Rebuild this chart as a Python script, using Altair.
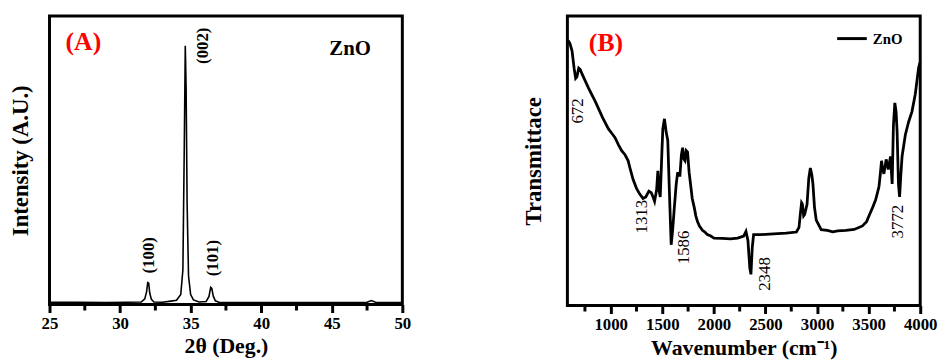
import altair as alt
import pandas as pd

# ---------------- Panel A: XRD ----------------
xrd_2theta = [25, 27, 29, 30.5, 31.5, 31.75, 31.88, 31.96, 32.03, 32.1, 32.22, 32.4, 33.0,
              33.6, 34.0, 34.3, 34.45, 34.55, 34.62, 34.68, 34.75, 34.85, 35.0, 35.2, 35.6,
              36.1, 36.3, 36.42, 36.5, 36.6, 36.75, 37.0, 38, 40, 42, 44, 46, 47.5, 47.8,
              48.1, 49, 50]
xrd_int = [0.8, 0.8, 0.7, 0.8, 0.9, 2.0, 4.5, 7.6, 7.4, 4.0, 1.8, 0.9, 0.8,
           1.2, 1.5, 3.5, 12, 55, 89.7, 75, 35, 10, 3.5, 1.6, 0.9,
           1.1, 2.8, 6.0, 5.6, 3.0, 1.3, 0.8, 0.7, 0.7, 0.7, 0.7, 0.7, 0.8, 1.4,
           0.8, 0.7, 0.7]

xrd_labels = ["(100)", "(002)", "(101)"]
xrd_label_x = [32.07, 35.85, 36.62]
xrd_label_y = [17.1, 89.7, 16.1]
xrd_major = [25, 30, 35, 40, 45, 50]
xrd_minor = [27.5, 32.5, 37.5, 42.5, 47.5]

# ---------------- Panel B: FTIR ----------------
ftir_wn = [587, 605, 625, 645, 660, 672, 690, 705, 722, 786, 850, 920, 978, 1010, 1042,
           1075, 1106, 1140, 1169, 1190, 1217, 1250, 1281, 1313, 1340, 1370, 1393, 1410,
           1425, 1445, 1457, 1468, 1480, 1495, 1505, 1521, 1537, 1553, 1570, 1586, 1600,
           1617, 1635, 1649, 1660, 1671, 1685, 1697, 1710, 1720, 1732, 1745, 1760, 1777,
           1790, 1809, 1825, 1841, 1860, 1889, 1910, 1937, 1970, 2001, 2080, 2161, 2230,
           2289, 2311, 2330, 2348, 2359, 2372, 2385, 2450, 2577, 2700, 2800, 2825, 2839,
           2850, 2858, 2870, 2880, 2903, 2920, 2935, 2950, 2960, 2975, 2992, 3040, 3100,
           3152, 3200, 3280, 3360, 3440, 3480, 3504, 3540, 3568, 3600, 3612, 3625, 3636,
           3648, 3670, 3690, 3712, 3728, 3740, 3754, 3766, 3776, 3789, 3800, 3812, 3824,
           3856, 3888, 3920, 3952, 3984, 3998]
ftir_t = [91.5, 90.5, 88, 82, 78.5, 79, 82, 81.5, 80, 75, 70.5, 65, 61, 59.5, 58,
          55.5, 53.5, 52, 50, 47, 43.5, 40.5, 38.5, 37, 37.5, 39.5, 39, 37.5,
          36, 40, 46.5, 40, 37.5, 52, 61, 64.5, 60, 57, 38, 21, 26,
          34, 42, 46, 45, 45, 52, 54.5, 50.5, 50, 53.5, 53, 46, 41,
          37, 34, 31, 29, 27.5, 26, 25.5, 24.5, 24, 23.3, 23.2, 23, 23.3,
          24, 25.6, 22.5, 13, 10.8, 20, 24.5, 24.5, 24.8, 25, 25.4, 27, 32,
          35.5, 35, 31, 31.5, 35, 44, 47.5, 45, 42, 34, 29.5, 26.2, 26,
          25.5, 25.8, 26, 26.3, 27.5, 29, 31, 34, 36.5, 41, 45, 50, 47,
          45.5, 50.5, 47, 51.5, 42, 62, 70, 67, 60, 42, 37.5, 45, 51.5,
          59, 63.5, 67, 73, 82, 84]

ftir_labels = ["672", "1313", "1586", "2348", "3772"]
ftir_label_x = [685, 1308, 1710, 2496, 3789]
ftir_label_y = [67.2, 30.7, 20.1, 10.9, 29.0]
ftir_major = [1000, 1500, 2000, 2500, 3000, 3500, 4000]
ftir_minor = [750, 1250, 1750, 2250, 2750, 3250, 3750]

FONT = "Liberation Serif"


def x_axis(title, values, pad, fmt):
    return alt.Axis(title=title, values=values, format=fmt, labelOverlap=False, labelFlush=False,
                    grid=False, domain=False,
                    ticks=True, tickSize=8, tickWidth=3, tickColor="black",
                    labelPadding=3, labelFontSize=17, labelFontWeight="bold",
                    labelFont=FONT, labelColor="black", titleFont=FONT, titleFontSize=22,
                    titleFontWeight="bold", titleColor="black", titlePadding=pad)


def y_axis(title, pad):
    return alt.Axis(title=title, labels=False, ticks=False, domain=False, grid=False,
                    titleFont=FONT, titleFontSize=23, titleFontWeight="bold",
                    titleColor="black", titlePadding=pad)


def minor_ticks(values, h):
    return alt.Chart(pd.DataFrame({"x": values})).mark_rule(
        color="black", strokeWidth=3, clip=False
    ).encode(x="x:Q", y=alt.value(h), y2=alt.value(h + 6))


# ---------- Panel A ----------
HA = 292
dfa = pd.DataFrame({"x": xrd_2theta, "y": xrd_int})
xa = alt.X("x:Q", scale=alt.Scale(domain=[25, 50], nice=False),
           axis=x_axis("2θ (Deg.)", xrd_major, 4, "d"))
ya = alt.Y("y:Q", scale=alt.Scale(domain=[0, 100], nice=False), axis=y_axis("Intensity (A.U.)", 17))
line_a = alt.Chart(dfa).mark_line(color="black", strokeWidth=1.6).encode(x=xa, y=ya)

lab_a = alt.Chart(pd.DataFrame({"x": xrd_label_x, "y": xrd_label_y, "t": xrd_labels})).mark_text(
    angle=270, font=FONT, fontSize=17, fontWeight="bold", color="black"
).encode(x="x:Q", y="y:Q", text="t:N")

tag_a1 = alt.Chart(pd.DataFrame({"x": [27.4], "y": [90.8], "t": ["(A)"]})).mark_text(
    font=FONT, fontWeight="bold", fontSize=26, color="red"
).encode(x="x:Q", y="y:Q", text="t:N")
tag_a2 = alt.Chart(pd.DataFrame({"x": [46.3], "y": [88.4], "t": ["ZnO"]})).mark_text(
    font=FONT, fontWeight="bold", fontSize=21, color="black"
).encode(x="x:Q", y="y:Q", text="t:N")

panel_a = alt.layer(line_a, minor_ticks(xrd_minor, HA), lab_a, tag_a1, tag_a2).properties(
    width=357, height=HA)

# ---------- Panel B ----------
HB = 293
dfb = pd.DataFrame({"x": ftir_wn, "y": ftir_t})
xb = alt.X("x:Q", scale=alt.Scale(domain=[580, 4000], nice=False),
           axis=x_axis("Wavenumber (cm⁻¹)", ftir_major, 6, "d"))
yb = alt.Y("y:Q", scale=alt.Scale(domain=[0, 100], nice=False), axis=y_axis("Transmittace", 22))
line_b = alt.Chart(dfb).mark_line(color="black", strokeWidth=2.8).encode(x=xb, y=yb)

lab_b = alt.Chart(pd.DataFrame({"x": ftir_label_x, "y": ftir_label_y, "t": ftir_labels})).mark_text(
    angle=270, font=FONT, fontSize=17, color="black"
).encode(x="x:Q", y="y:Q", text="t:N")

tag_b = alt.Chart(pd.DataFrame({"x": [954], "y": [90.8], "t": ["(B)"]})).mark_text(
    font=FONT, fontWeight="bold", fontSize=26, color="red"
).encode(x="x:Q", y="y:Q", text="t:N")

leg_line = alt.Chart(pd.DataFrame({"x": [3195], "x2": [3482], "y": [92.2]})).mark_rule(
    color="black", strokeWidth=3
).encode(x="x:Q", x2="x2:Q", y="y:Q")
leg_text = alt.Chart(pd.DataFrame({"x": [3540], "y": [92.2], "t": ["ZnO"]})).mark_text(
    font=FONT, fontWeight="bold", fontSize=15, color="black", align="left"
).encode(x="x:Q", y="y:Q", text="t:N")

panel_b = alt.layer(line_b, minor_ticks(ftir_minor, HB), lab_b, tag_b, leg_line, leg_text).properties(
    width=357, height=HB)

chart = alt.hconcat(panel_a, panel_b, spacing=110).properties(
    padding={"left": 0, "top": 4, "right": 0, "bottom": 0},
    background="white"
).configure_view(stroke="black", strokeWidth=3)

chart.save("out.html", embed_options={"renderer": "svg", "actions": False})
